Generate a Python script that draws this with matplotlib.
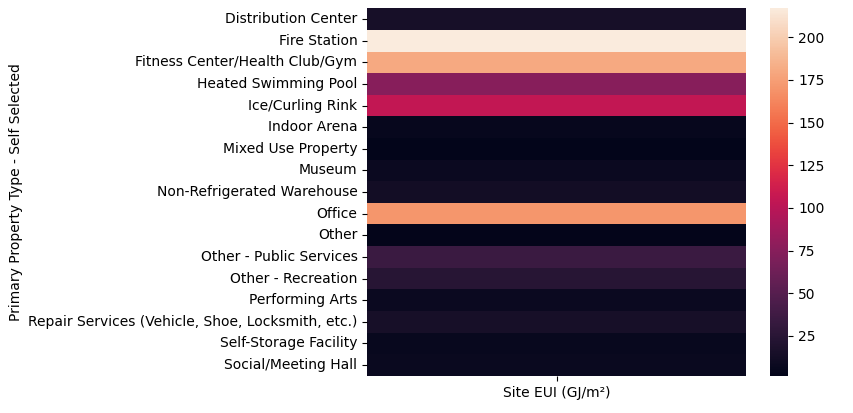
import matplotlib
matplotlib.use("Agg")
import matplotlib.pyplot as plt
import seaborn as sns
import pandas as pd

categories = ["Distribution Center", "Fire Station", "Fitness Center/Health Club/Gym",
              "Heated Swimming Pool", "Ice/Curling Rink", "Indoor Arena", "Mixed Use Property",
              "Museum", "Non-Refrigerated Warehouse", "Office", "Other", "Other - Public Services",
              "Other - Recreation", "Performing Arts",
              "Repair Services (Vehicle, Shoe, Locksmith, etc.)", "Self-Storage Facility",
              "Social/Meeting Hall"]
values = [15, 217, 180, 75, 105, 5, 1.6, 8, 12, 170, 2.5, 35, 24, 8, 15, 6, 7]

df = pd.DataFrame({"Site EUI (GJ/m²)": values},
                  index=pd.Index(categories, name="Primary Property Type - Self Selected"))
fig = plt.figure(figsize=(8.54, 4.13), dpi=100)
ax = sns.heatmap(df, cmap="rocket")
fig.subplots_adjust(left=0.43, right=0.985, top=0.98, bottom=0.09)
fig.savefig("out.png", dpi=100)
